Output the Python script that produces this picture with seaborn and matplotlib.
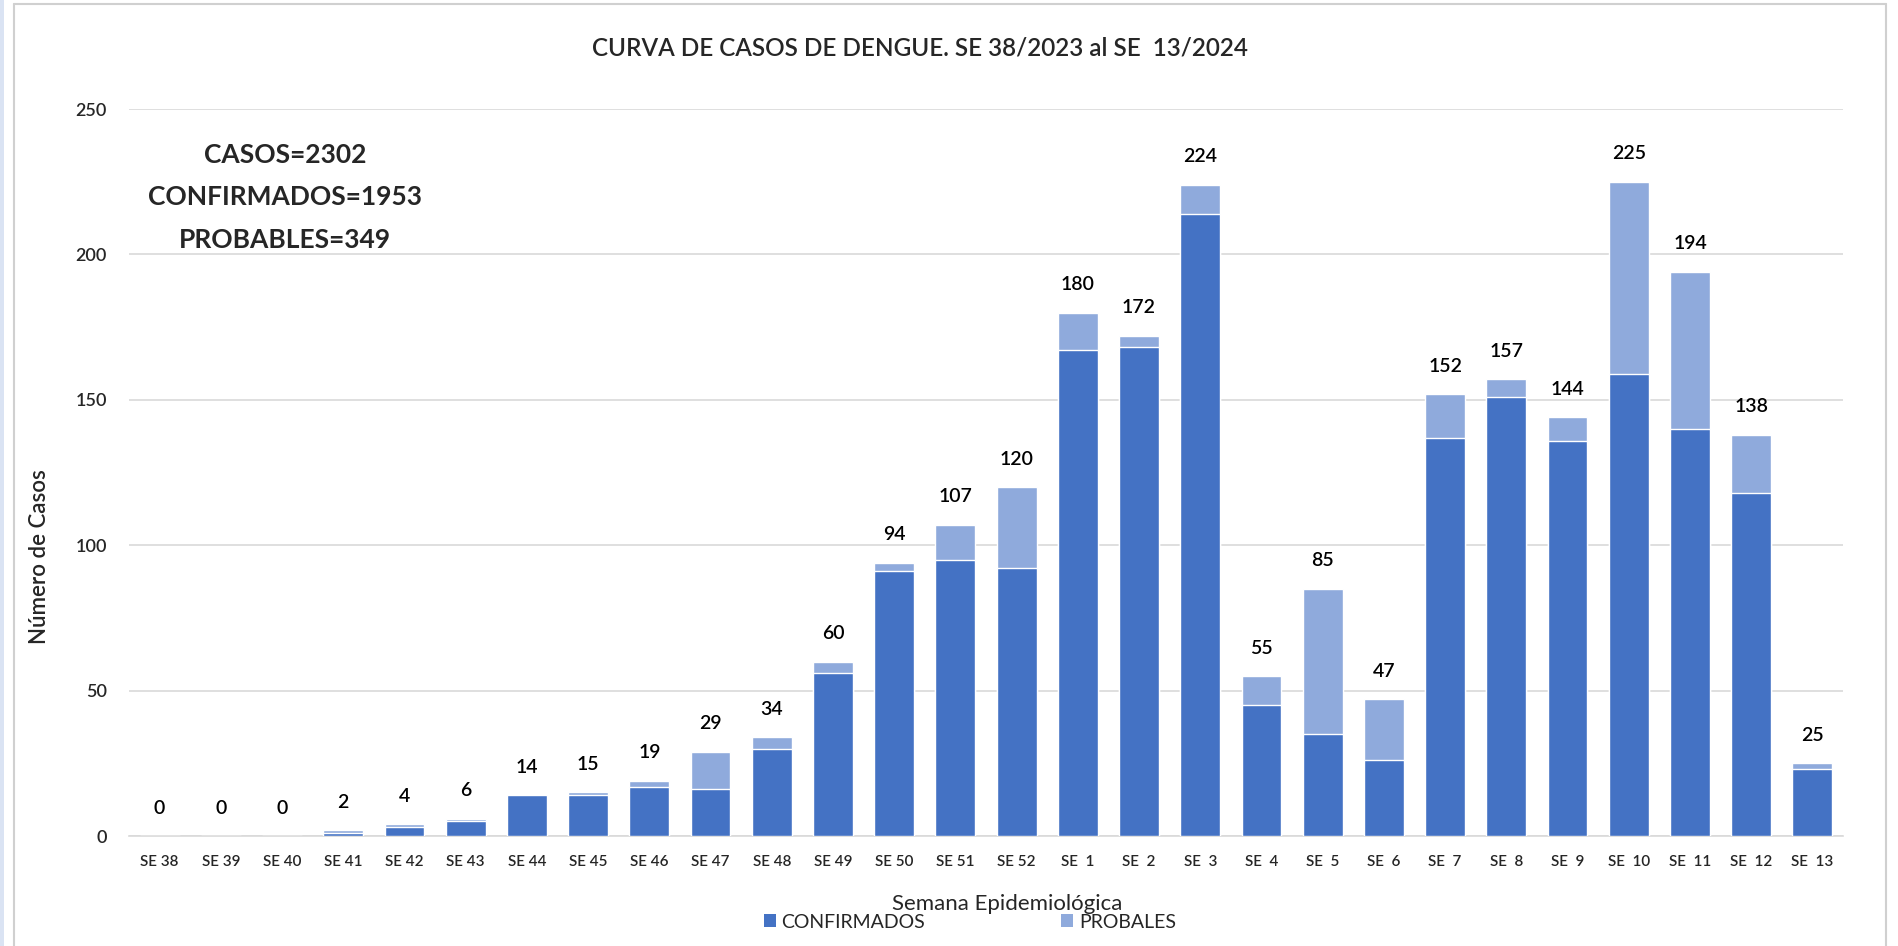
import matplotlib
matplotlib.use("Agg")
import matplotlib.pyplot as plt
from matplotlib.lines import Line2D
from matplotlib.patches import Rectangle, Patch
import seaborn as sns
import pandas as pd

semanas = ["SE 38", "SE 39", "SE 40", "SE 41", "SE 42", "SE 43", "SE 44", "SE 45",
           "SE 46", "SE 47", "SE 48", "SE 49", "SE 50", "SE 51", "SE 52",
           "SE  1", "SE  2", "SE  3", "SE  4", "SE  5", "SE  6", "SE  7", "SE  8",
           "SE  9", "SE  10", "SE  11", "SE  12", "SE  13"]
totales = [0, 0, 0, 2, 4, 6, 14, 15, 19, 29, 34, 60, 94, 107, 120,
           180, 172, 224, 55, 85, 47, 152, 157, 144, 225, 194, 138, 25]
confirmados = [0, 0, 0, 1, 3, 5, 14, 14, 17, 16, 30, 56, 91, 95, 92,
               167, 168, 214, 45, 35, 26, 137, 151, 136, 159, 140, 118, 23]
y_ticks = [0, 50, 100, 150, 200, 250]

titulo = "CURVA DE CASOS DE DENGUE. SE 38/2023 al SE  13/2024"
resumen = ["CASOS=2302", "CONFIRMADOS=1953", "PROBABLES=349"]

COL_CONF = "#4472C4"
COL_PROB = "#8FAADC"
MED = "semibold"

df = pd.DataFrame({"semana": semanas, "total": totales, "confirmados": confirmados})

sns.set_theme(style="white")
plt.rcParams["font.family"] = ["Lato", "DejaVu Sans"]

W, H = 1898, 946
fig = plt.figure(figsize=(W / 100, H / 100), dpi=100)
ax = fig.add_axes([129 / W, 1 - 836 / H, (1843 - 129) / W, (836 - 109) / H])

sns.barplot(data=df, x="semana", y="total", color=COL_PROB, width=0.65,
            saturation=1, ax=ax, zorder=2)
sns.barplot(data=df, x="semana", y="confirmados", color=COL_CONF, width=0.65,
            saturation=1, ax=ax, zorder=3)

ax.bar_label(ax.containers[0], labels=[str(v) for v in totales], padding=14,
             fontsize=14, color="black", fontweight=MED)

ax.set_ylim(0, 250)
ax.set_yticks(y_ticks)
ax.set_xlim(-0.5, len(semanas) - 0.5)
ax.yaxis.grid(True, color="#D9D9D9", linewidth=1.2, zorder=0)
ax.set_axisbelow(True)
for s in ["top", "right", "left"]:
    ax.spines[s].set_visible(False)
ax.spines["bottom"].set_color("#D9D9D9")
ax.spines["bottom"].set_linewidth(1.2)
ax.tick_params(axis="both", length=0)
ax.tick_params(axis="y", labelsize=13, pad=16)
ax.tick_params(axis="x", labelsize=11, pad=14)
for lab in ax.get_xticklabels() + ax.get_yticklabels():
    lab.set_fontweight(MED)

ax.set_xlabel("")
ax.set_ylabel("")
fig.text(40 / W, 1 - 557 / H, "Número de Casos", fontsize=16, rotation=90,
         ha="center", va="center", fontweight=MED)
fig.text(1007 / W, 1 - 904 / H, "Semana Epidemiológica", fontsize=16,
         ha="center", va="center")

fig.text(920 / W, 1 - 48 / H, titulo, fontsize=17.5, ha="center", va="center",
         fontweight=MED)

for txt, yy in zip(resumen, [155, 197, 240]):
    fig.text(285 / W, 1 - yy / H, txt, fontsize=19, fontweight="bold",
             ha="center", va="center")

handles = [Patch(facecolor=COL_CONF, edgecolor="none"),
           Patch(facecolor=COL_PROB, edgecolor="none")]
fig.legend(handles, ["CONFIRMADOS", "PROBALES"], loc="center",
           bbox_to_anchor=(970 / W, 1 - 922 / H), ncol=2, frameon=False,
           fontsize=14, handlelength=0.6, handleheight=0.6, handletextpad=0.3,
           columnspacing=7.0)

# outer frame
fig.add_artist(Rectangle((0, 0), 4 / W, 1, transform=fig.transFigure,
                         facecolor="#DAE3F3", edgecolor="none"))
fig.add_artist(Line2D([14 / W, 14 / W], [0, 1 - 4 / H], transform=fig.transFigure,
                      color="#D0D0D0", linewidth=1.5))
fig.add_artist(Line2D([14 / W, 1886 / W], [1 - 4 / H, 1 - 4 / H],
                      transform=fig.transFigure, color="#D0D0D0", linewidth=1.5))
fig.add_artist(Line2D([1886 / W, 1886 / W], [0, 1 - 4 / H], transform=fig.transFigure,
                      color="#D0D0D0", linewidth=1.5))

fig.savefig("out.png", dpi=100)
